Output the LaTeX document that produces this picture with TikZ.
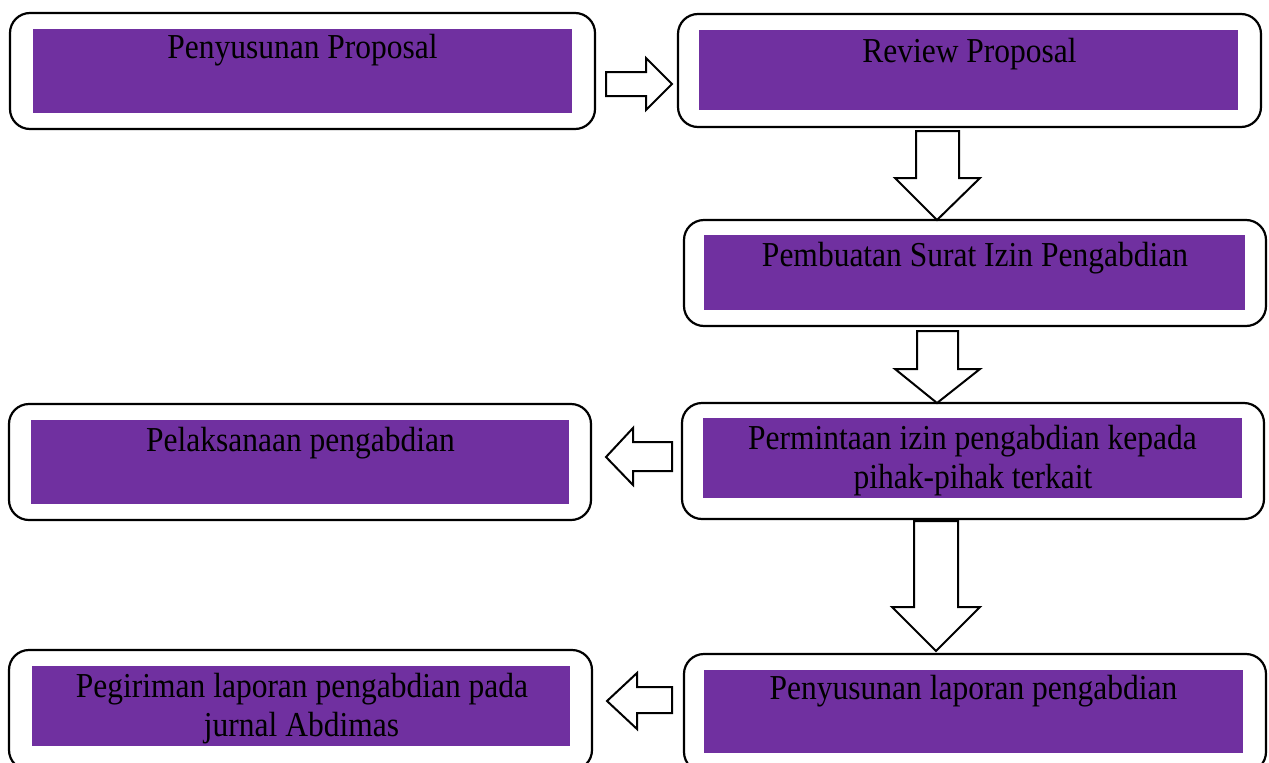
\documentclass[tikz,border=0pt]{standalone}
\usepackage{fontspec}
\setmainfont{Liberation Serif}[FakeStretch=0.9]
\definecolor{purp}{HTML}{7030A0}
\begin{document}
\begin{tikzpicture}[x=1pt,y=-1pt,
 obox/.style={draw=black, line width=2.2pt, rounded corners=20pt, fill=white},
 ibox/.style={fill=purp},
 lbl/.style={font=\fontsize{35}{38}\selectfont, anchor=base, inner sep=0pt, text=black},
 blk/.style={draw=black, line width=2pt, fill=white, line join=miter}]
\clip (0,0) rectangle (1269,763);
\fill[white] (0,0) rectangle (1269,763);
% box 1
\draw[obox] (10,13) rectangle (595,129);
\fill[ibox] (33,29) rectangle (572,113);
\node[lbl] (t1) at (302.5,58) {Penyusunan Proposal};
% box 2
\draw[obox] (678,14) rectangle (1261,127);
\fill[ibox] (699,30) rectangle (1238,110);
\node[lbl] (t2) at (969.5,62) {Review Proposal};
% box 3
\draw[obox] (684,220) rectangle (1266,326);
\fill[ibox] (704,235) rectangle (1245,310);
\node[lbl] (t3) at (975,266) {Pembuatan Surat Izin Pengabdian};
% box 4
\draw[obox] (682,403) rectangle (1264,519);
\fill[ibox] (703,418) rectangle (1242,498);
\node[lbl] (t4a) at (972.5,449) {Permintaan izin pengabdian kepada};
\node[lbl] (t4b) at (973,488) {pihak-pihak terkait};
% box 5
\draw[obox] (9,404) rectangle (591,520);
\fill[ibox] (31,420) rectangle (569,504);
\node[lbl] (t5) at (300.5,451) {Pelaksanaan pengabdian};
% box 6
\draw[obox] (684,654) rectangle (1266,772);
\fill[ibox] (704,670) rectangle (1243,753);
\node[lbl] (t6) at (973.5,699) {Penyusunan laporan pengabdian};
% box 7
\draw[obox] (9,650) rectangle (592,770);
\fill[ibox] (32,666) rectangle (570,746);
\node[lbl] (t7a) at (302,697) {Pegiriman laporan pengabdian pada};
\node[lbl] (t7b) at (301.5,736) {jurnal Abdimas};
% block arrows
\draw[blk] (606,72) -- (646,72) -- (646,58) -- (672,84) -- (646,110) -- (646,96) -- (606,96) -- cycle;
\draw[blk] (916,131) -- (959,131) -- (959,178) -- (980,178) -- (937,220) -- (895,178) -- (916,178) -- cycle;
\draw[blk] (917,331) -- (958,331) -- (958,369) -- (980,369) -- (937,403) -- (895,369) -- (917,369) -- cycle;
\draw[blk] (672,442) -- (633,442) -- (633,428) -- (606,457) -- (633,485) -- (633,471) -- (672,471) -- cycle;
\draw[blk] (914,521) -- (958,521) -- (958,607) -- (980,607) -- (936,651) -- (892,607) -- (914,607) -- cycle;
\draw[blk] (672,687) -- (637,687) -- (637,673) -- (607,701) -- (637,729) -- (637,713) -- (672,713) -- cycle;
\end{tikzpicture}
\end{document}
